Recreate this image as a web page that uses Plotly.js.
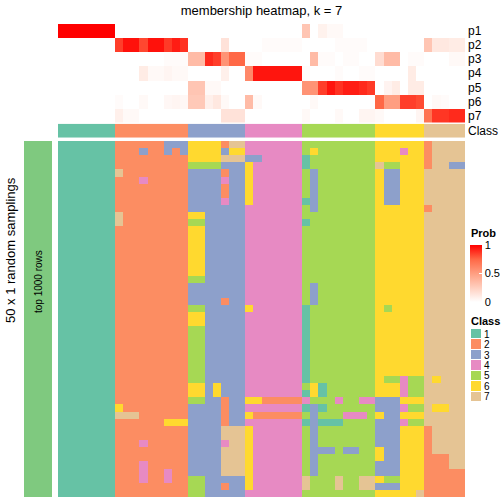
<!DOCTYPE html>
<html>
<head>
<meta charset="utf-8">
<script src="https://cdn.plot.ly/plotly-3.0.1.min.js"></script>
<style>html,body{margin:0;padding:0;background:#fff}#chart{width:504px;height:504px}</style>
</head>
<body>
<div id="chart"></div>
<script>
// ---------------- data ----------------
const classLabels = ['1','2','3','4','5','6','7'];
const classColors = ['#66C2A5','#FC8D62','#8DA0CB','#E78AC3','#A6D854','#FFD92F','#E5C494'];
const probLabels = ['p1','p2','p3','p4','p5','p6','p7'];

// consensus class of each of the 50 columns
const columnClass = [1,1,1,1,1,1,1, 2,2,2,2,2,2,2,2,2, 3,3,3,3,3,3,3, 4,4,4,4,4,4,4,
                     5,5,5,5,5,5,5,5,5, 6,6,6,6,6,6, 7,7,7,7,7];

// membership probabilities (rows p1..p7, 50 columns)
const p1 = [1,1,1,1,1,1,1, 0,0,0,0,0,0,0,0,0, 0,0,0,0,0,0,0, 0,0,0,0,0,0,0,
            0.3,0,0.07,0.03,0.03,0,0,0,0, 0,0,0,0,0,0, 0,0,0,0,0];
const p2 = [0,0,0,0,0,0,0, 0.85,0.96,0.96,0.83,0.96,0.96,0.86,0.93,0.88, 0,0,0,0,0.15,0,0, 0,0,0.02,0.02,0.02,0.02,0.02,
            0,0,0,0,0.02,0.02,0.02,0.02,0, 0,0,0,0,0,0, 0.3,0.12,0.12,0.1,0.1];
const p3 = [0,0,0,0,0,0,0, 0,0,0,0,0,0,0.02,0.02,0.02, 0.35,0.35,0.9,0.85,0.55,0.75,0.75, 0.02,0.02,0,0,0,0,0,
            0,0.35,0.02,0.02,0,0.02,0.02,0,0, 0.18,0.35,0.35,0,0.02,0.02, 0,0,0,0.03,0.03];
const p4 = [0,0,0,0,0,0,0, 0,0,0,0.1,0.03,0.03,0.05,0.03,0.03, 0,0,0,0,0.08,0,0, 0.6,0.95,0.95,0.95,0.95,0.95,0.95,
            0.02,0,0,0,0.02,0,0,0.02,0.02, 0,0,0,0,0.1,0, 0,0,0,0,0];
const p5 = [0,0,0,0,0,0,0, 0,0,0,0,0,0,0,0,0, 0.3,0.3,0.03,0.03,0,0,0, 0,0,0,0,0,0,0,
            0.55,0.55,0.85,0.95,0.88,0.93,0.93,0.9,0.86, 0,0.06,0.1,0,0.1,0.1, 0,0,0,0,0];
const p6 = [0,0,0,0,0,0,0, 0.02,0,0,0.03,0,0,0.04,0.05,0.04, 0.28,0.28,0.08,0.12,0.03,0,0, 0.35,0.03,0,0,0,0,0,
            0,0.03,0,0,0,0,0,0,0, 0.75,0.5,0.5,0.85,0.85,0.82, 0,0.03,0.02,0,0];
const p7 = [0,0,0,0,0,0,0, 0.08,0.03,0.03,0,0,0,0,0,0, 0,0,0,0,0.15,0.15,0.15, 0,0,0,0,0,0,0,
            0.03,0,0,0,0.03,0,0,0.05,0.05, 0.03,0,0,0,0,0.05, 0.7,0.87,0.87,0.9,0.9];

// class assigned in each of the 50 random samplings (rows) for each column
const samplingRows = [
 "1111111222222333666627744444445555555556666662777 7",
 "1111111222322323666636644444445655555556664662777 7",
 "1111111222222222666677733444441555555556666662777 7",
 "1111111222222222555533364444441555555557556662773 3",
 "1111111722222222333323364444445355555556336667777 7",
 "1111111222422222333343364444445355555556336667777 7",
 "1111111222222222333323364444445355555556336667777 7",
 "1111111222222222333323364444445355555556336667777 7",
 "1111111222222222333343364444441355555556336667777 7",
 "1111111222222222333333344444445355555556666662777 7",
 "1111111722222222663333344444445555555556666667777 7",
 "1111111722222222553333344444441555555556666667777 7",
 "1111111222222222663333344444445555555556666667777 7",
 "1111111222222222663333344444445555555556666667777 7",
 "1111111222222222663333344444445555555556666667777 7",
 "1111111222222222663333344444445555555556666667777 7",
 "1111111222222222663333344444445555555556666667777 7",
 "1111111222222222663333344444445555555556666667777 7",
 "1111111222222222663333344444445555555556666667777 7",
 "1111111222222222553333344444445555555556666667777 7",
 "1111111222222222333333344444445355555556666667777 7",
 "1111111222222222333333344444445355555556666667777 7",
 "1111111222222222333323344444445355555556666667777 7",
 "1111111222222222553333364444441555555556566667777 7",
 "1111111222222222663333344444441555555556666667777 7",
 "1111111222222222663333344444441555555556666667777 7",
 "1111111222222222553333344444441555555556666667777 7",
 "1111111222222222553333344444441555555556666667777 7",
 "1111111222222222553333344444441555555556666667777 7",
 "1111111222222222553333344444441555555556666667777 7",
 "1111111222222222553333344444441555555556666667777 7",
 "1111111222222222553333344444441555555556666667777 7",
 "1111111222222222553333344444441555555556666667777 7",
 "1111111222222222553333344444441555555556554557677 7",
 "1111111222222222663633344444445615555556664557777 7",
 "1111111222222222663633344444441615555556664557777 7",
 "1111111222222222553323366222224555455443336667777 7",
 "1111111622222222333323344444441315555553334557667 7",
 "1111111777222222333323362222225355544456336667777 7",
 "1111111222222666333323344444441311155553334557777 7",
 "1111111222222222333377764444445355555553336662777 7",
 "1111111222222222333377764444445355555553336662777 7",
 "1111111222422222333347764444445355555553336662777 7",
 "1111111222222222333377764444445333533556336662777 7",
 "1111111222222222333377764444445355555556336662227 7",
 "1111111222422222333377764444445355555553336662227 7",
 "1111111222422422333377764444445355555553336662222 2",
 "1111111222422422553333364444447555755776556662222 2",
 "1111111222222222553323364444447555755773336662222 2",
 "1111111222222222553333344444445555555556666672222 2"
];
</script>
<script>
// rows are written as 49 digits + space + last digit; strip spaces
const classMatrix = samplingRows.map(r => r.replace(/\s/g,'').split('').map(Number));

function px(x){return x/504;}
function py(y){return 1 - y/504;}

const discreteScale = [];
classColors.forEach((c,k)=>{discreteScale.push([k/7,c]);discreteScale.push([(k+1)/7,c]);});
const probScale = [[0,'#FFFFFF'],[0.25,'rgb(255,207,191)'],[0.5,'rgb(255,158,129)'],[0.75,'rgb(255,104,70)'],[1,'#FF0000']];

const colIdx = columnClass.map((_,i)=>i);
const FONT = 'Liberation Sans, Arial, sans-serif';

const traces = [
  { // main sampling heatmap
    type:'heatmap', x:colIdx, y:classMatrix.map((_,i)=>i), z:classMatrix,
    colorscale:discreteScale, zmin:0.5, zmax:7.5, showscale:false,
    xaxis:'x', yaxis:'y', hoverinfo:'skip'
  },
  { // class annotation bar
    type:'heatmap', x:colIdx, y:[0], z:[columnClass],
    colorscale:discreteScale, zmin:0.5, zmax:7.5, showscale:false,
    xaxis:'x', yaxis:'y2', hoverinfo:'skip'
  },
  { // probability annotation
    type:'heatmap', x:colIdx, y:[0,1,2,3,4,5,6], z:[p1,p2,p3,p4,p5,p6,p7],
    colorscale:probScale, zmin:0, zmax:1, showscale:true,
    xaxis:'x', yaxis:'y3', hoverinfo:'skip',
    colorbar:{
      x:px(470), xanchor:'left', y:py(245), yanchor:'top',
      len:57, lenmode:'pixels', thickness:12, thicknessmode:'pixels',
      xpad:0, ypad:0, outlinewidth:0,
      tickvals:[0,0.5,1], ticktext:['0','0.5','1'],
      ticks:'inside', ticklen:3, tickcolor:'white', tickwidth:1,
      tickfont:{family:FONT,size:11,color:'#000'}
    }
  },
  { // class legend
    type:'heatmap', x:[0], y:[0,1,2,3,4,5,6], z:classLabels.map(l=>[Number(l)]),
    colorscale:discreteScale, zmin:0.5, zmax:7.5, showscale:false, ygap:1,
    xaxis:'x4', yaxis:'y4', hoverinfo:'skip'
  },
  { // left sampling-group bar
    type:'heatmap', x:[0], y:[0], z:[[1]],
    colorscale:[[0,'#7FC97F'],[1,'#7FC97F']], showscale:false,
    xaxis:'x5', yaxis:'y5', hoverinfo:'skip'
  }
];

const hidden = {showgrid:false, zeroline:false, showticklabels:false, ticks:'', showline:false};

const layout = {
  width:504, height:504,
  margin:{l:0,r:0,t:0,b:0},
  paper_bgcolor:'#fff', plot_bgcolor:'#fff',
  showlegend:false,
  font:{family:FONT, color:'#000'},
  title:{text:'membership heatmap, k = 7', x:px(261.5), xanchor:'center', xref:'paper',
         y:py(10), yanchor:'middle', yref:'paper', font:{family:FONT,size:13,color:'#000'}},
  xaxis:Object.assign({domain:[px(58),px(465)], range:[-0.5,49.5], anchor:'y'}, hidden),
  yaxis:Object.assign({domain:[py(497),py(141)], range:[49.5,-0.5], anchor:'x'}, hidden),
  yaxis2:{domain:[py(137.7),py(123.7)], range:[-0.5,0.5], anchor:'x', side:'right',
          showgrid:false, zeroline:false, ticks:'', tickvals:[0], ticktext:['Class'],
          ticklabelstandoff:2, tickfont:{family:FONT,size:12,color:'#000'}},
  yaxis3:{domain:[py(122.5),py(24)], range:[6.5,-0.5], anchor:'x', side:'right',
          showgrid:false, zeroline:false, ticks:'', tickvals:[0,1,2,3,4,5,6], ticktext:probLabels,
          ticklabelstandoff:2, tickfont:{family:FONT,size:12,color:'#000'}},
  xaxis4:Object.assign({domain:[px(471),px(481)], range:[-0.5,0.5], anchor:'y4'}, hidden),
  yaxis4:{domain:[py(402),py(329)], range:[6.5,-0.5], anchor:'x4', side:'right',
          showgrid:false, zeroline:false, ticks:'', tickvals:[0,1,2,3,4,5,6], ticktext:classLabels,
          ticklabelstandoff:2, tickfont:{family:FONT,size:10,color:'#000'}},
  xaxis5:Object.assign({domain:[px(24),px(52)], range:[-0.5,0.5], anchor:'y5'}, hidden),
  yaxis5:Object.assign({domain:[py(497),py(141)], range:[-0.5,0.5], anchor:'x5'}, hidden),
  annotations:[
    {text:'50 x 1 random samplings', xref:'paper', yref:'paper', x:px(10), y:py(250),
     textangle:-90, showarrow:false, xanchor:'center', yanchor:'middle',
     font:{family:FONT,size:13,color:'#000'}},
    {text:'top 1000 rows', xref:'paper', yref:'paper', x:px(38), y:py(282),
     textangle:-90, showarrow:false, xanchor:'center', yanchor:'middle',
     font:{family:FONT,size:10,color:'#000'}},
    {text:'<b>Prob</b>', xref:'paper', yref:'paper', x:px(469), y:py(233),
     showarrow:false, xanchor:'left', yanchor:'middle',
     font:{family:FONT,size:11,color:'#000'}},
    {text:'<b>Class</b>', xref:'paper', yref:'paper', x:px(469), y:py(321),
     showarrow:false, xanchor:'left', yanchor:'middle',
     font:{family:FONT,size:11,color:'#000'}}
  ]
};

Plotly.newPlot('chart', traces, layout, {staticPlot:true, displayModeBar:false});
</script>
</body>
</html>
